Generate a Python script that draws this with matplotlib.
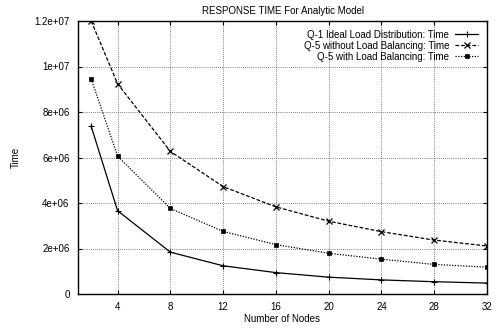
import matplotlib
matplotlib.use("Agg")
import matplotlib.pyplot as plt

# Data
nodes = [2, 4, 8, 12, 16, 20, 24, 28, 32]
ideal = [7.37e6, 3.66e6, 1.84e6, 1.24e6, 0.94e6, 0.74e6, 0.62e6, 0.54e6, 0.48e6]
no_lb = [1.20e7, 9.24e6, 6.27e6, 4.72e6, 3.83e6, 3.20e6, 2.74e6, 2.37e6, 2.11e6]
with_lb = [9.46e6, 6.06e6, 3.76e6, 2.75e6, 2.17e6, 1.79e6, 1.53e6, 1.30e6, 1.18e6]

x_ticks = [4, 8, 12, 16, 20, 24, 28, 32]
y_ticks = [0, 2e6, 4e6, 6e6, 8e6, 1e7, 1.2e7]
y_tick_labels = ["0", "2e+06", "4e+06", "6e+06", "8e+06", "1e+07", "1.2e+07"]

plt.rcParams["font.family"] = ["Liberation Sans", "DejaVu Sans"]
plt.rcParams["font.size"] = 7

fig = plt.figure(figsize=(5.03, 3.30), dpi=100)
ax = fig.add_axes([78 / 503, 1 - 294 / 330, (487 - 78) / 503, (294 - 21) / 330])

ax.plot(nodes, ideal, color="black", linewidth=0.9, linestyle="-",
        marker="+", markersize=5, markeredgewidth=0.8,
        label="Q-1 Ideal Load Distribution: Time")
ax.plot(nodes, no_lb, color="black", linewidth=0.9, linestyle=(0, (3, 1.5)),
        marker="x", markersize=4.5, markeredgewidth=0.9,
        label="Q-5 without Load Balancing: Time")
ax.plot(nodes, with_lb, color="black", linewidth=0.9, linestyle=(0, (1, 1.2)),
        marker="s", markersize=3, markeredgewidth=0.5,
        label="Q-5 with Load Balancing: Time")

ax.set_xlim(1, 32)
ax.set_ylim(0, 1.2e7)
ax.set_xticks(x_ticks)
ax.set_yticks(y_ticks)
ax.set_yticklabels(y_tick_labels)
ax.tick_params(direction="in", top=True, right=True, length=3, width=0.8, pad=6)
ax.grid(True, color="#555555", linestyle=(0, (1, 1.5)), linewidth=0.6)
for s in ax.spines.values():
    s.set_linewidth(1.0)

ax.set_xlabel("Number of Nodes", labelpad=1)
ax.set_ylabel("Time", labelpad=10)
ax.set_title("RESPONSE TIME For Analytic Model", fontsize=7, pad=5)

leg = ax.legend(loc="upper right", frameon=False, markerfirst=False,
                handlelength=2.4, handletextpad=0.6, labelspacing=0.1,
                borderaxespad=0.5, fontsize=7)
for t in leg.get_texts():
    t.set_ha("right")
leg._legend_box.align = "right"

fig.savefig("out.png", dpi=100)
